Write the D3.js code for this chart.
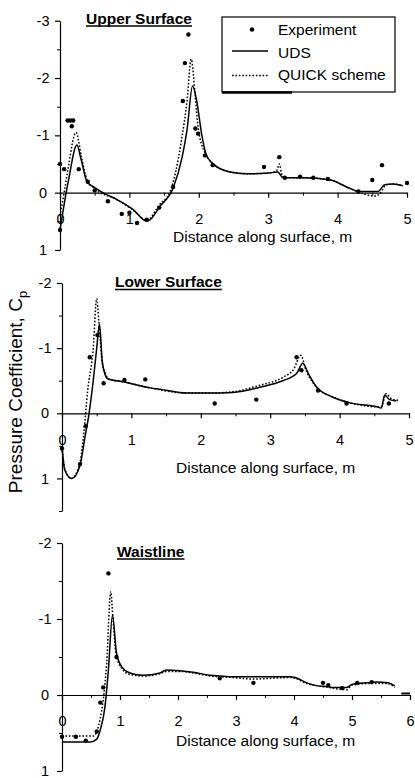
<!DOCTYPE html>
<html>
<head>
<meta charset="utf-8">
<script src="https://cdn.jsdelivr.net/npm/d3@7/dist/d3.min.js"></script>
<style>
  html, body { margin: 0; padding: 0; background: #fff; }
  svg { display: block; font-family: "Liberation Sans", Arial, Helvetica, sans-serif; }
</style>
</head>
<body>
<svg id="chart" width="415" height="778"></svg>
<script>
// ---------------- DATA ----------------
// Upper surface: [distance (m), Cp]
const upperUDS = [[0,0.65],[0.12,-0.2],[0.245,-0.83],[0.3,-0.6],[0.39,-0.19],[0.5,-0.09],[0.65,0.02],[0.82,0.12],[1.05,0.29],[1.25,0.5],[1.3,0.47],[1.44,0.24],[1.63,-0.08],[1.76,-0.62],[1.83,-1.09],[1.91,-1.86],[1.97,-1.6],[2.04,-1.03],[2.1,-0.69],[2.19,-0.52],[2.45,-0.36],[2.69,-0.33],[2.98,-0.34],[3.14,-0.36],[3.18,-0.3],[3.22,-0.26],[3.5,-0.26],[3.9,-0.22],[4.13,-0.1],[4.32,-0.02],[4.58,-0.02],[4.68,-0.14],[4.8,-0.15],[4.94,-0.12]];
const upperQUICK = [[0,0.4],[0.06,0.0],[0.12,-0.45],[0.23,-1.05],[0.31,-0.62],[0.39,-0.22],[0.5,-0.07],[0.82,0.12],[1.05,0.3],[1.25,0.48],[1.44,0.2],[1.58,0],[1.75,-0.91],[1.83,-1.6],[1.89,-2.33],[1.95,-1.66],[1.99,-1.14],[2.09,-0.69],[2.19,-0.52],[2.45,-0.36],[2.69,-0.33],[2.98,-0.34],[3.12,-0.38],[3.16,-0.5],[3.2,-0.3],[3.25,-0.26],[3.5,-0.26],[3.9,-0.22],[4.13,-0.1],[4.32,0.0],[4.55,0.06],[4.62,0.0],[4.7,-0.14],[4.8,-0.15],[4.94,-0.12]];
const upperExp = [[0,0.65],[0,-0.5],[0.06,-0.41],[0.11,-1.26],[0.15,-1.26],[0.19,-1.26],[0.17,-1.16],[0.27,-0.41],[0.4,-0.19],[0.5,-0.04],[0.69,0.15],[0.89,0.37],[1.0,0.35],[1.11,0.53],[1.25,0.47],[1.43,0.26],[1.63,-0.1],[1.77,-1.6],[1.8,-2.26],[1.85,-2.76],[1.95,-1.12],[1.99,-1.03],[2.09,-0.65],[2.2,-0.48],[2.94,-0.45],[3.16,-0.62],[3.24,-0.26],[3.46,-0.28],[3.65,-0.26],[3.86,-0.24],[4.3,-0.02],[4.5,-0.22],[4.64,-0.48],[5.0,-0.17]];

// Lower surface
const lowerUDS = [[0,0.52],[0.04,0.87],[0.14,1.0],[0.26,0.8],[0.33,0.37],[0.39,0],[0.45,-0.5],[0.5,-1.0],[0.54,-1.37],[0.58,-0.8],[0.62,-0.6],[0.66,-0.53],[0.9,-0.48],[1.27,-0.39],[1.41,-0.37],[1.8,-0.31],[2.13,-0.31],[2.46,-0.32],[2.85,-0.4],[3.18,-0.5],[3.38,-0.61],[3.47,-0.77],[3.55,-0.61],[3.67,-0.4],[3.9,-0.25],[4.15,-0.16],[4.54,-0.1],[4.6,-0.08],[4.65,-0.28],[4.72,-0.21],[4.82,-0.19]];
const lowerQUICK = [[0,0.52],[0.04,0.85],[0.13,1.0],[0.25,0.8],[0.31,0.35],[0.37,-0.35],[0.45,-1.0],[0.5,-1.76],[0.53,-1.42],[0.58,-0.77],[0.63,-0.6],[0.66,-0.53],[0.9,-0.48],[1.27,-0.39],[1.8,-0.31],[2.13,-0.31],[2.46,-0.33],[2.85,-0.43],[3.18,-0.55],[3.34,-0.68],[3.44,-0.89],[3.52,-0.65],[3.67,-0.4],[3.9,-0.25],[4.15,-0.16],[4.54,-0.1],[4.6,-0.1],[4.67,-0.3],[4.75,-0.22],[4.85,-0.2]];
const lowerExp = [[0,0.54],[0.26,0.78],[0.34,0.2],[0.4,-0.86],[0.51,-1.2],[0.6,-0.46],[0.9,-0.51],[1.2,-0.52],[2.2,-0.15],[2.8,-0.21],[3.38,-0.86],[3.45,-0.66],[3.69,-0.35],[4.1,-0.15],[4.71,-0.15]];

// Waistline
const waistUDS = [[0,0.62],[0.48,0.62],[0.6,0.58],[0.66,0.46],[0.74,0.16],[0.8,-0.33],[0.87,-1.05],[0.94,-0.55],[1.03,-0.37],[1.17,-0.29],[1.4,-0.26],[1.69,-0.29],[1.8,-0.33],[2.03,-0.32],[2.26,-0.3],[2.55,-0.26],[2.72,-0.25],[2.95,-0.24],[3.93,-0.24],[4.02,-0.23],[4.22,-0.16],[4.41,-0.12],[4.59,-0.11],[4.65,-0.1],[4.91,-0.1],[5.0,-0.14],[5.09,-0.15],[5.26,-0.16],[5.43,-0.17],[5.62,-0.16],[5.74,-0.12]];
const waistTail = [[5.85,-0.02],[6.0,-0.02]];
const waistQUICK = [[0,0.54],[0.55,0.54],[0.6,0.48],[0.66,0.3],[0.71,0.07],[0.77,-0.42],[0.84,-1.36],[0.88,-0.99],[0.93,-0.55],[1.03,-0.35],[1.17,-0.27],[1.4,-0.25],[1.69,-0.28],[1.8,-0.31],[2.03,-0.31],[2.26,-0.29],[2.55,-0.25],[2.95,-0.23],[3.3,-0.21],[3.93,-0.23],[4.02,-0.22],[4.22,-0.15],[4.41,-0.12],[4.59,-0.1],[4.91,-0.07],[5.0,-0.13],[5.26,-0.15],[5.62,-0.15],[5.74,-0.1]];
const waistExp = [[0,0.55],[0.24,0.55],[0.41,0.6],[0.6,0.48],[0.66,0.1],[0.71,-0.1],[0.8,-1.6],[0.94,-0.5],[2.72,-0.22],[3.3,-0.16],[4.5,-0.16],[4.59,-0.13],[4.83,-0.09],[5.09,-0.16],[5.34,-0.17]];

// Tick labels
const upperXTicks = [0,1,2,3,4,5];
const upperYTicks = [-3,-2,-1,0,1];
const lowerXTicks = [0,1,2,3,4,5];
const lowerYTicks = [-2,-1,0,1];
const waistXTicks = [0,1,2,3,4,5,6];
const waistYTicks = [-2,-1,0,1];

const panelTitles = ["Upper Surface","Lower Surface","Waistline"];
const xAxisLabel = "Distance along surface, m";
const legendLabels = ["Experiment","UDS","QUICK scheme"];

// ---------------- LAYOUT ----------------
const svg = d3.select("#chart");
const FONT = '"Liberation Sans", Arial, Helvetica, sans-serif';

const panels = [
  {title: panelTitles[0], xDom:[0,5], xR:[60,407], yDom:[-3,1], yR:[20.7,250],
   uds: upperUDS, quick: upperQUICK, exp: upperExp, extra: [], xt: upperXTicks, yt: upperYTicks,
   tx: 86, ty: 23.5, lx: 173, ly: 242},
  {title: panelTitles[1], xDom:[0,5], xR:[62,409], yDom:[-2,1.5], yR:[283,511],
   uds: lowerUDS, quick: lowerQUICK, exp: lowerExp, extra: [], xt: lowerXTicks, yt: lowerYTicks,
   tx: 115, ty: 287, lx: 176, ly: 473},
  {title: panelTitles[2], xDom:[0,6], xR:[62,410], yDom:[-2,1], yR:[543,771],
   uds: waistUDS, quick: waistQUICK, exp: waistExp, extra: [waistTail], xt: waistXTicks, yt: waistYTicks,
   tx: 117, ty: 556.5, lx: 176, ly: 746}
];

function halves(lo, hi) {
  const out = [];
  for (let v = Math.ceil(lo*2)/2; v <= hi + 1e-9; v += 0.5) {
    if (Math.abs(v - Math.round(v)) > 1e-6) out.push(v);
  }
  return out;
}

panels.forEach(p => {
  const x = d3.scaleLinear().domain(p.xDom).range(p.xR);
  const y = d3.scaleLinear().domain(p.yDom).range(p.yR);
  const g = svg.append("g");

  // Y axis
  const yAx = g.append("g").attr("transform", `translate(${p.xR[0]},0)`)
    .call(d3.axisLeft(y).tickValues(p.yt).tickSize(5).tickSizeOuter(0).tickPadding(6)
      .tickFormat(d => String(d)));
  yAx.select(".domain").attr("stroke", "#000").attr("stroke-width", 1.2);
  yAx.selectAll(".tick line").attr("stroke-width", 1.2);
  yAx.selectAll("text").attr("font-family", FONT).attr("font-size", 14.5)
    .attr("text-anchor", "middle").attr("x", -17).attr("fill", "#000");
  g.append("g").attr("transform", `translate(${p.xR[0]},0)`)
    .call(d3.axisLeft(y).tickValues(halves(p.yDom[0], p.yDom[1])).tickSize(3).tickSizeOuter(0).tickFormat(""))
    .call(s => s.select(".domain").remove());

  // X axis along Cp = 0
  const xAx = g.append("g").attr("transform", `translate(0,${y(0)})`)
    .call(d3.axisBottom(x).tickValues(p.xt).tickSize(5).tickSizeOuter(0).tickPadding(16)
      .tickFormat(d => String(d)));
  xAx.select(".domain").attr("stroke", "#000").attr("stroke-width", 1.2);
  xAx.selectAll(".tick line").attr("stroke-width", 1.2);
  xAx.selectAll("text").attr("font-family", FONT).attr("font-size", 14.5).attr("fill", "#000");
  g.append("g").attr("transform", `translate(0,${y(0)})`)
    .call(d3.axisBottom(x).tickValues(halves(p.xDom[0], p.xDom[1])).tickSize(3).tickSizeOuter(0).tickFormat(""))
    .call(s => s.select(".domain").remove());

  // Lines
  const ln = d3.line().x(d => x(d[0])).y(d => y(d[1])).curve(d3.curveMonotoneX);
  g.append("path").datum(p.quick).attr("d", ln).attr("fill", "none")
    .attr("stroke", "#000").attr("stroke-width", 1.5).attr("stroke-dasharray", "1.6,1.8");
  g.append("path").datum(p.uds).attr("d", ln).attr("fill", "none")
    .attr("stroke", "#000").attr("stroke-width", 1.5);
  p.extra.forEach(seg => {
    g.append("path").datum(seg).attr("d", ln).attr("fill", "none")
      .attr("stroke", "#000").attr("stroke-width", 2);
  });

  // Experimental points
  g.selectAll("circle.exp").data(p.exp).join("circle").attr("class", "exp")
    .attr("cx", d => x(d[0])).attr("cy", d => y(d[1])).attr("r", 2.2).attr("fill", "#000");

  // Title (bold, underlined)
  const t = g.append("text").attr("x", p.tx).attr("y", p.ty)
    .attr("font-family", FONT).attr("font-size", 15.5).attr("font-weight", "bold")
    .attr("fill", "#000").text(p.title);
  const tw = t.node().getComputedTextLength();
  g.append("line").attr("x1", p.tx).attr("x2", p.tx + tw)
    .attr("y1", p.ty + 2.5).attr("y2", p.ty + 2.5).attr("stroke", "#000").attr("stroke-width", 1.4);

  // X axis label
  g.append("text").attr("x", p.lx).attr("y", p.ly)
    .attr("font-family", FONT).attr("font-size", 15.5).attr("fill", "#000").text(xAxisLabel);
});

// Y axis title
const yt = svg.append("text")
  .attr("transform", "translate(22,392) rotate(-90)")
  .attr("text-anchor", "middle")
  .attr("font-family", FONT).attr("font-size", 19).attr("fill", "#000");
yt.append("tspan").text("Pressure Coefficient, C");
yt.append("tspan").attr("dy", 5).attr("font-size", 13).text("p");

// Legend
const lg = svg.append("g");
lg.append("rect").attr("x", 222).attr("y", 17).attr("width", 173).attr("height", 75)
  .attr("fill", "#fff").attr("stroke", "#000").attr("stroke-width", 1.2);
lg.append("line").attr("x1", 222).attr("x2", 292).attr("y1", 92.5).attr("y2", 92.5)
  .attr("stroke", "#000").attr("stroke-width", 2.4);
lg.append("circle").attr("cx", 252).attr("cy", 29.5).attr("r", 2.2).attr("fill", "#000");
lg.append("line").attr("x1", 232).attr("x2", 268).attr("y1", 51).attr("y2", 51)
  .attr("stroke", "#000").attr("stroke-width", 1.5);
lg.append("line").attr("x1", 232).attr("x2", 268).attr("y1", 75.5).attr("y2", 75.5)
  .attr("stroke", "#000").attr("stroke-width", 1.5).attr("stroke-dasharray", "1.6,1.8");
[[35, legendLabels[0]], [58, legendLabels[1]], [80, legendLabels[2]]].forEach(([yy, s]) => {
  lg.append("text").attr("x", 278).attr("y", yy).attr("font-family", FONT)
    .attr("font-size", 15.5).attr("fill", "#000").text(s);
});
</script>
</body>
</html>
